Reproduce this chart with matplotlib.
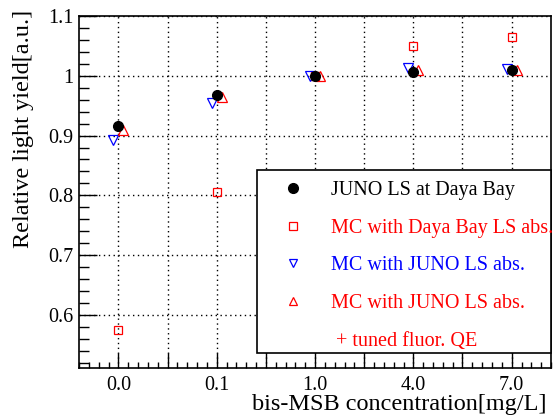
import matplotlib
matplotlib.use("Agg")
import matplotlib.pyplot as plt
from matplotlib.lines import Line2D
from matplotlib.patches import Rectangle
from matplotlib.ticker import MultipleLocator
import numpy as np

plt.rcParams['font.family'] = ['Liberation Serif', 'DejaVu Serif']

categories = ["0.0", "0.1", "1.0", "4.0", "7.0"]
juno_data = [0.916, 0.968, 1.000, 1.006, 1.009]
mc_dyb_abs = [0.576, 0.806, 1.000, 1.050, 1.064]
mc_juno_abs = [0.893, 0.954, 1.000, 1.012, 1.011]
mc_juno_tuned = [0.909, 0.964, 1.000, 1.010, 1.010]
ytick_vals = [0.6, 0.7, 0.8, 0.9, 1.0, 1.1]
ytick_labels = ["0.6", "0.7", "0.8", "0.9", "1", "1.1"]

W, H = 557, 420
fig = plt.figure(figsize=(W / 100, H / 100), dpi=100)
l, r, t, b = 79, 551, 15.7, 368
ax = fig.add_axes([l / W, 1 - b / H, (r - l) / W, (b - t) / H])

x = np.arange(len(categories))
off = 0.05
ax.plot(x, mc_dyb_abs, ls='none', marker='s', ms=6, mfc='none', mec='red', mew=0.9, zorder=3)
ax.plot(x - off, mc_juno_abs, ls='none', marker='v', ms=7.5, mfc='none', mec='blue', mew=0.9, zorder=4)
ax.plot(x + off, mc_juno_tuned, ls='none', marker='^', ms=7.5, mfc='none', mec='red', mew=0.9, zorder=4)
ax.plot(x, juno_data, ls='none', marker='o', ms=7, color='black', zorder=5)

ax.set_xlim(-0.4, 4.4)
ax.set_ylim(0.512, 1.1)

xt = np.arange(0.0, 4.01, 0.5)
ax.set_xticks(xt)
ax.set_xticklabels([categories[int(v)] if abs(v - round(v)) < 1e-6 else "" for v in xt])
ax.xaxis.set_minor_locator(MultipleLocator(0.1))
ax.set_yticks(ytick_vals)
ax.set_yticklabels(ytick_labels)
ax.yaxis.set_minor_locator(MultipleLocator(0.02))

ax.tick_params(axis='both', which='both', direction='in', top=False, right=False, labelsize=14.5)
ax.tick_params(axis='x', which='major', length=11, width=1, pad=6)
ax.tick_params(axis='x', which='minor', length=4, width=1)
ax.tick_params(axis='y', which='major', length=13, width=1, pad=4)
ax.tick_params(axis='y', which='minor', length=7, width=1)
for s in ax.spines.values():
    s.set_linewidth(1.2)

ax.grid(True, which='major', color='black', ls=(0, (1, 2.5)), lw=1.0)
ax.set_axisbelow(True)

fig.text(546 / W, 1 - 410 / H, "bis-MSB concentration[mg/L]", ha='right', va='baseline', fontsize=17.5)
fig.text(23 / W, 1 - 10 / H, "Relative light yield[a.u.]", ha='center', va='top', rotation=90, fontsize=17.5)

# legend frame
fig.patches.append(Rectangle((257 / W, 1 - 353 / H), (551 - 257) / W, (353 - 170) / H,
                             transform=fig.transFigure, fill=True, facecolor='white',
                             edgecolor='black', lw=1.2, zorder=10))

handles = [
    Line2D([], [], ls='none', marker='o', ms=7, color='black'),
    Line2D([], [], ls='none', marker='s', ms=6, mfc='none', mec='red', mew=0.9),
    Line2D([], [], ls='none', marker='v', ms=6, mfc='none', mec='blue', mew=0.9),
    Line2D([], [], ls='none', marker='^', ms=6, mfc='none', mec='red', mew=0.9),
    Line2D([], [], ls='none', marker=''),
]
labels = ["JUNO LS at Daya Bay", "MC with Daya Bay LS abs.", "MC with JUNO LS abs.",
          "MC with JUNO LS abs.", " + tuned fluor. QE"]
colors = ['black', 'red', 'blue', 'red', 'red']
leg = fig.legend(handles, labels, loc='upper left', bbox_to_anchor=(283 / W, 1 - 181 / H),
                 frameon=False, fontsize=14.5, labelspacing=0.92, handlelength=1.0,
                 handletextpad=1.4, borderpad=0, borderaxespad=0)
leg.set_zorder(11)
for txt, c in zip(leg.get_texts(), colors):
    txt.set_color(c)

fig.savefig("out.png", dpi=100)
